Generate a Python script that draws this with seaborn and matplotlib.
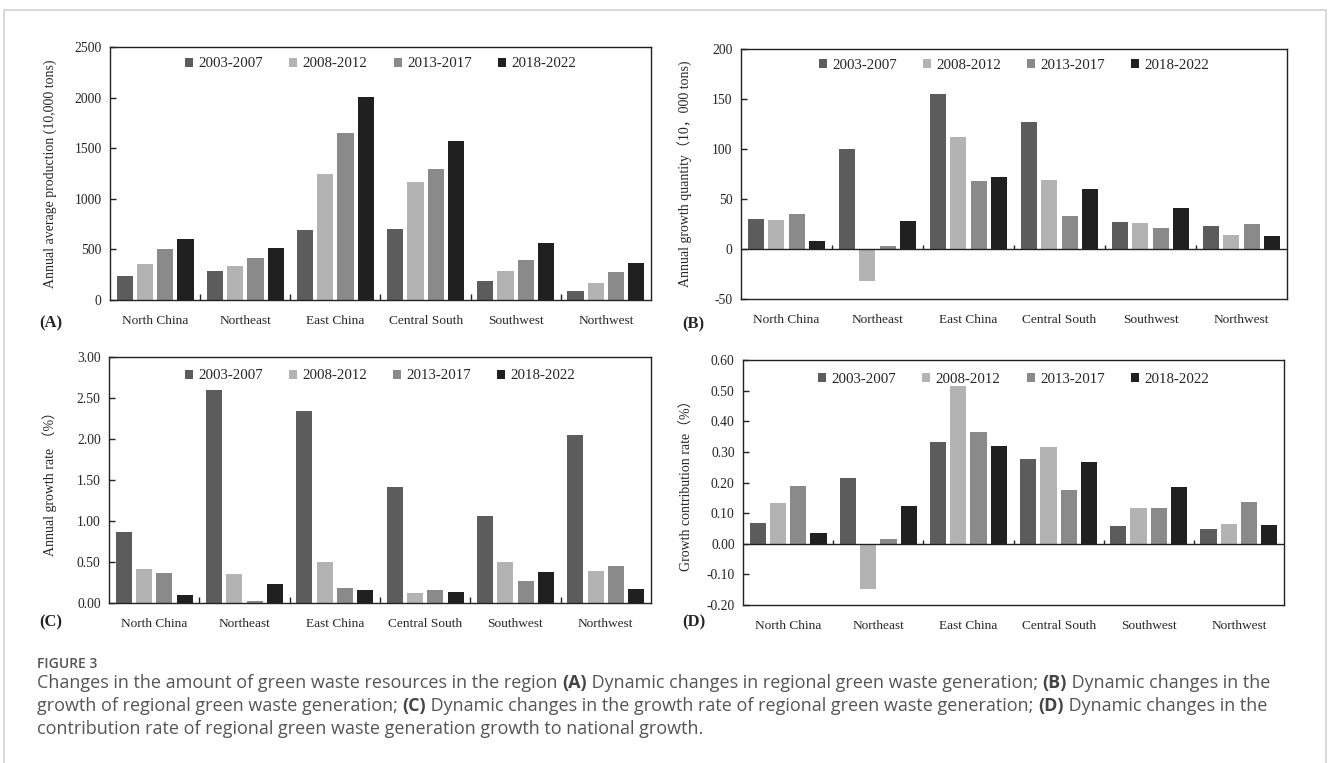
import numpy as np
import pandas as pd
import matplotlib
matplotlib.use("Agg")
import matplotlib.pyplot as plt
import matplotlib.transforms as mtransforms
import seaborn as sns
from matplotlib.patches import Rectangle

regions = ["North China", "Northeast", "East China", "Central South", "Southwest", "Northwest"]
periods = ["2003-2007", "2008-2012", "2013-2017", "2018-2022"]
colors = ["#5c5c5c", "#b3b3b3", "#8a8a8a", "#202020"]

# (A) annual average production, 10,000 tons
prod_0307 = [234, 283, 691, 701, 184, 89]
prod_0812 = [359, 336, 1244, 1168, 283, 168]
prod_1317 = [500, 411, 1652, 1293, 395, 280]
prod_1822 = [605, 510, 2010, 1576, 563, 368]

# (B) annual growth quantity, 10,000 tons
grow_0307 = [30, 100, 155, 127, 27, 23]
grow_0812 = [29, -32, 112, 69, 26, 14]
grow_1317 = [35, 3, 68, 33, 21, 25]
grow_1822 = [8, 28, 72, 60, 41, 13]

# (C) annual growth rate, %
rate_0307 = [0.86, 2.60, 2.34, 1.415, 1.067, 2.046]
rate_0812 = [0.41, 0.356, 0.505, 0.125, 0.497, 0.388]
rate_1317 = [0.37, 0.02, 0.178, 0.158, 0.267, 0.457]
rate_1822 = [0.093, 0.235, 0.154, 0.137, 0.384, 0.17]

# (D) growth contribution rate, %
contr_0307 = [0.067, 0.215, 0.333, 0.276, 0.059, 0.048]
contr_0812 = [0.133, -0.147, 0.514, 0.317, 0.118, 0.063]
contr_1317 = [0.188, 0.017, 0.365, 0.177, 0.116, 0.135]
contr_1822 = [0.036, 0.124, 0.320, 0.266, 0.186, 0.061]


def long_form(*series):
    rows = []
    for period, vals in zip(periods, series):
        for region, v in zip(regions, vals):
            rows.append({"region": region, "period": period, "value": v})
    return pd.DataFrame(rows)


sns.set_theme(style="white")
plt.rcParams["font.family"] = ["Liberation Serif", "Noto Sans CJK SC", "DejaVu Sans"]
plt.rcParams["axes.edgecolor"] = "#222222"
plt.rcParams["axes.linewidth"] = 1.0

fig = plt.figure(figsize=(13.28, 7.63), dpi=100)
W, H = 1328, 763
INK = "#222222"


def add_ax(left, right, top, bottom):
    return fig.add_axes([left / W, (H - bottom) / H, (right - left) / W, (bottom - top) / H])


panels = [
    dict(box=(110, 651, 47, 300), df=long_form(prod_0307, prod_0812, prod_1317, prod_1822),
         ylim=(0, 2500), step=500, fmt="{:.0f}", labx=57,
         ylabel="Annual average production (10,000 tons)", tag="(A)", tagpos=(39, 323), leg=0.933),
    dict(box=(741, 1287, 49, 299), df=long_form(grow_0307, grow_0812, grow_1317, grow_1822),
         ylim=(-50, 200), step=50, fmt="{:.0f}", labx=693,
         ylabel="Annual growth quantity（10，000 tons)", tag="(B)", tagpos=(682, 324), leg=0.935),
    dict(box=(109, 651, 357, 603), df=long_form(rate_0307, rate_0812, rate_1317, rate_1822),
         ylim=(0, 3.0), step=0.5, fmt="{:.2f}", labx=57,
         ylabel="Annual growth rate （%）", tag="(C)", tagpos=(39, 622), leg=0.923),
    dict(box=(743, 1284, 360, 605), df=long_form(contr_0307, contr_0812, contr_1317, contr_1822),
         ylim=(-0.2, 0.6), step=0.1, fmt="{:.2f}", labx=694,
         ylabel="Growth contribution rate（%）", tag="(D)", tagpos=(682, 622), leg=0.922),
]

for p in panels:
    ax = add_ax(*p["box"])
    sns.barplot(data=p["df"], x="region", y="value", hue="period", hue_order=periods,
                palette=colors, width=0.9, gap=0.2, saturation=1, linewidth=0,
                ax=ax, errorbar=None)
    lo, hi = p["ylim"]
    ax.set_ylim(lo, hi)
    ax.set_xlim(-0.5, len(regions) - 0.5)
    ticks = np.round(np.arange(lo, hi + p["step"] / 2, p["step"]), 4)
    ax.set_yticks(ticks)
    ax.set_yticklabels([p["fmt"].format(t) for t in ticks], fontsize=9.8)
    ax.tick_params(axis="y", direction="in", length=4, width=1, color=INK, pad=6, left=True)
    ax.set_xticks(range(len(regions)))
    ax.set_xticklabels(regions, fontsize=9.6)
    ax.tick_params(axis="x", which="major", length=0, pad=11)
    ax.set_xlabel("")
    ax.set_ylabel(p["ylabel"], fontsize=10)
    ax.yaxis.set_label_coords((p["labx"] - p["box"][0]) / (p["box"][1] - p["box"][0]), 0.5)
    for s in ax.spines.values():
        s.set_visible(True)
        s.set_color(INK)

    # group separator ticks sitting on the zero line
    boundaries = np.arange(0.5, len(regions) - 1, 1.0)
    if lo < 0:
        ax.axhline(0, color=INK, linewidth=1.0, zorder=3)
        zero_frac = (0 - lo) / (hi - lo)
        tick_h = 4 / (p["box"][3] - p["box"][2])
        trans = mtransforms.blended_transform_factory(ax.transData, ax.transAxes)
        ax.vlines(boundaries, zero_frac, zero_frac + tick_h, transform=trans,
                  color=INK, linewidth=1.0, zorder=3)
    else:
        ax.set_xticks(boundaries, minor=True)
        ax.tick_params(axis="x", which="minor", direction="in", length=4, width=1,
                       color=INK, bottom=True)

    ax.legend(loc="center", bbox_to_anchor=(0.5, p["leg"]), ncol=4, frameon=False,
              fontsize=10.7, handlelength=0.55, handleheight=0.55, handletextpad=0.35,
              columnspacing=1.75, borderaxespad=0)
    fig.text(p["tagpos"][0] / W, 1 - p["tagpos"][1] / H, p["tag"], fontsize=12,
             fontweight="bold", va="center", ha="left")

# outer frame of the figure panel
frame = fig.add_axes([0, 0, 1, 1], zorder=-1)
frame.axis("off")
frame.set_xlim(0, W)
frame.set_ylim(H, 0)
frame.add_patch(Rectangle((4, 10), 1322, 800, fill=False, edgecolor="#d2d2d2", linewidth=1.2))

# caption
cap_font = ["Open Sans", "DejaVu Sans"]
cap_color = "#555555"
frame.text(37, 668, "FIGURE 3", fontsize=10, family=cap_font, color=cap_color,
           fontweight="semibold", va="baseline", ha="left")

caption_lines = [
    [("Changes in the amount of green waste resources in the region ", False), ("(A)", True),
     (" Dynamic changes in regional green waste generation; ", False), ("(B)", True),
     (" Dynamic changes in the", False)],
    [("growth of regional green waste generation; ", False), ("(C)", True),
     (" Dynamic changes in the growth rate of regional green waste generation; ", False),
     ("(D)", True), (" Dynamic changes in the", False)],
    [("contribution rate of regional green waste generation growth to national growth.", False)],
]
baselines = [688, 711, 734]
for segs, yb in zip(caption_lines, baselines):
    prev = None
    for txt, bold in segs:
        kw = dict(fontsize=13, family=cap_font, color="#444444" if bold else cap_color,
                  fontweight="bold" if bold else "normal", va="baseline", ha="left")
        if prev is None:
            prev = frame.text(37, yb, txt, **kw)
        else:
            prev = frame.annotate(txt, xy=(1, yb), xycoords=(prev, "data"), **kw)

fig.savefig("out.png", dpi=100)
